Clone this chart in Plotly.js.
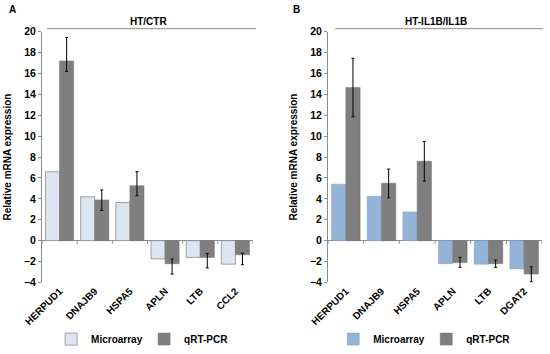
<!DOCTYPE html>
<html><head><meta charset="utf-8">
<script src="https://cdn.plot.ly/plotly-3.0.1.min.js"></script>
<style>body{margin:0;background:#fff}#chart{width:550px;height:354px}</style>
</head><body><div id="chart"></div>
<script>
const genesA = ["HERPUD1","DNAJB9","HSPA5","APLN","LTB","CCL2"];
const microA = [6.6, 4.2, 3.65, -1.75, -1.6, -2.25];
const qpcrA = [17.2, 3.9, 5.25, -2.2, -1.6, -1.35];
const qpcrAErrUp = [2.25, 0.95, 1.35, 0.45, 0.38, 0.15];
const qpcrAErrDown = [1.0, 1.0, 0.95, 1.0, 1.0, 0.95];

const genesB = ["HERPUD1","DNAJB9","HSPA5","APLN","LTB","DGAT2"];
const microB = [5.4, 4.25, 2.75, -2.2, -2.25, -2.7];
const qpcrB = [14.65, 5.5, 7.6, -2.1, -2.2, -3.2];
const qpcrBErrUp = [2.8, 1.35, 1.9, 0.5, 0.35, 0.7];
const qpcrBErrDown = [2.8, 1.4, 1.9, 0.45, 0.35, 0.75];

const F = {family:"Liberation Sans, Arial, sans-serif", size:10, color:"#000", weight:"bold"};
const FT = {family:"Liberation Sans, Arial, sans-serif", size:10.5, color:"#000", weight:"bold"};
const err = (up, dn) => ({type:"data", symmetric:false, array:up, arrayminus:dn, color:"#000", thickness:1, width:1.5});

const traces = [
  {type:"bar", x:genesA, y:microA, name:"Microarray", xaxis:"x", yaxis:"y", legend:"legend",
   marker:{color:"#dce6f2", line:{color:"#8c8c8c", width:0.8}}},
  {type:"bar", x:genesA, y:qpcrA, name:"qRT-PCR", xaxis:"x", yaxis:"y", legend:"legend",
   marker:{color:"#7f7f7f", line:{color:"#6e6e6e", width:0.5}}, error_y:err(qpcrAErrUp, qpcrAErrDown)},
  {type:"bar", x:genesB, y:microB, name:"Microarray", xaxis:"x2", yaxis:"y2", legend:"legend2",
   marker:{color:"#95b3d7", line:{color:"#7f9cc0", width:0.5}}},
  {type:"bar", x:genesB, y:qpcrB, name:"qRT-PCR", xaxis:"x2", yaxis:"y2", legend:"legend2",
   marker:{color:"#7f7f7f", line:{color:"#6e6e6e", width:0.5}}, error_y:err(qpcrBErrUp, qpcrBErrDown)}
];

const yDom = [1-285.7/354, 1-32/354];
const yax = (anchor) => ({domain:yDom, anchor:anchor, range:[-4,20], dtick:2, showgrid:false,
  showline:true, linecolor:"#8c8c8c", linewidth:1, ticks:"outside", ticklen:3, tickcolor:"#8c8c8c",
  zeroline:true, zerolinecolor:"#8c8c8c", zerolinewidth:1, tickfont:FT,
  title:{text:"Relative mRNA expression", font:F, standoff:10}});
const xax = (dom, anchor) => ({domain:dom, anchor:anchor, type:"category", range:[-0.5,5.5],
  showline:false, ticks:"", tickangle:-45, tickfont:F, showgrid:false, zeroline:false});

function boundaryTicks(xr, yr){
  const s=[];
  for(let i=0;i<=6;i++){
    s.push({type:"line", xref:xr, yref:yr, x0:i-0.5, x1:i-0.5, y0:0, y1:-0.3,
      line:{color:"#8c8c8c", width:1}});
  }
  return s;
}

const leg = (xc) => ({orientation:"h", x:xc, xanchor:"center", y:1-343/354, yanchor:"middle", font:F,
    itemwidth:30, entrywidth:48, entrywidthmode:"pixels", tracegroupgap:0, bgcolor:"rgba(0,0,0,0)"});

const layout = {
  width:550, height:354, margin:{l:0,r:0,t:0,b:0},
  paper_bgcolor:"#fff", plot_bgcolor:"#fff",
  barmode:"group", bargap:0.2, bargroupgap:0,
  xaxis:xax([42/550, 253/550], "y"),
  yaxis:yax("x"),
  xaxis2:xax([328/550, 542/550], "y2"),
  yaxis2:yax("x2"),
  legend:leg(0.262),
  legend2:leg(0.775),
  annotations:[
    {text:"A", xref:"paper", yref:"paper", x:7/550, y:1-10/354, xanchor:"left", yanchor:"middle", showarrow:false, font:F},
    {text:"B", xref:"paper", yref:"paper", x:291/550, y:1-10/354, xanchor:"left", yanchor:"middle", showarrow:false, font:F},
    {text:"HT/CTR", xref:"paper", yref:"paper", x:148/550, y:1-22/354, xanchor:"center", yanchor:"middle", showarrow:false, font:F},
    {text:"HT-IL1B/IL1B", xref:"paper", yref:"paper", x:436/550, y:1-22/354, xanchor:"center", yanchor:"middle", showarrow:false, font:F}
  ],
  shapes:[
    {type:"line", xref:"paper", yref:"paper", x0:47/550, x1:256/550, y0:1-29/354, y1:1-29/354, line:{color:"#8c8c8c", width:1}},
    {type:"line", xref:"paper", yref:"paper", x0:335/550, x1:543/550, y0:1-29/354, y1:1-29/354, line:{color:"#8c8c8c", width:1}},
    ...boundaryTicks("x","y"), ...boundaryTicks("x2","y2")
  ]
};

Plotly.newPlot("chart", traces, layout, {staticPlot:true, displayModeBar:false});
</script>
</body></html>
